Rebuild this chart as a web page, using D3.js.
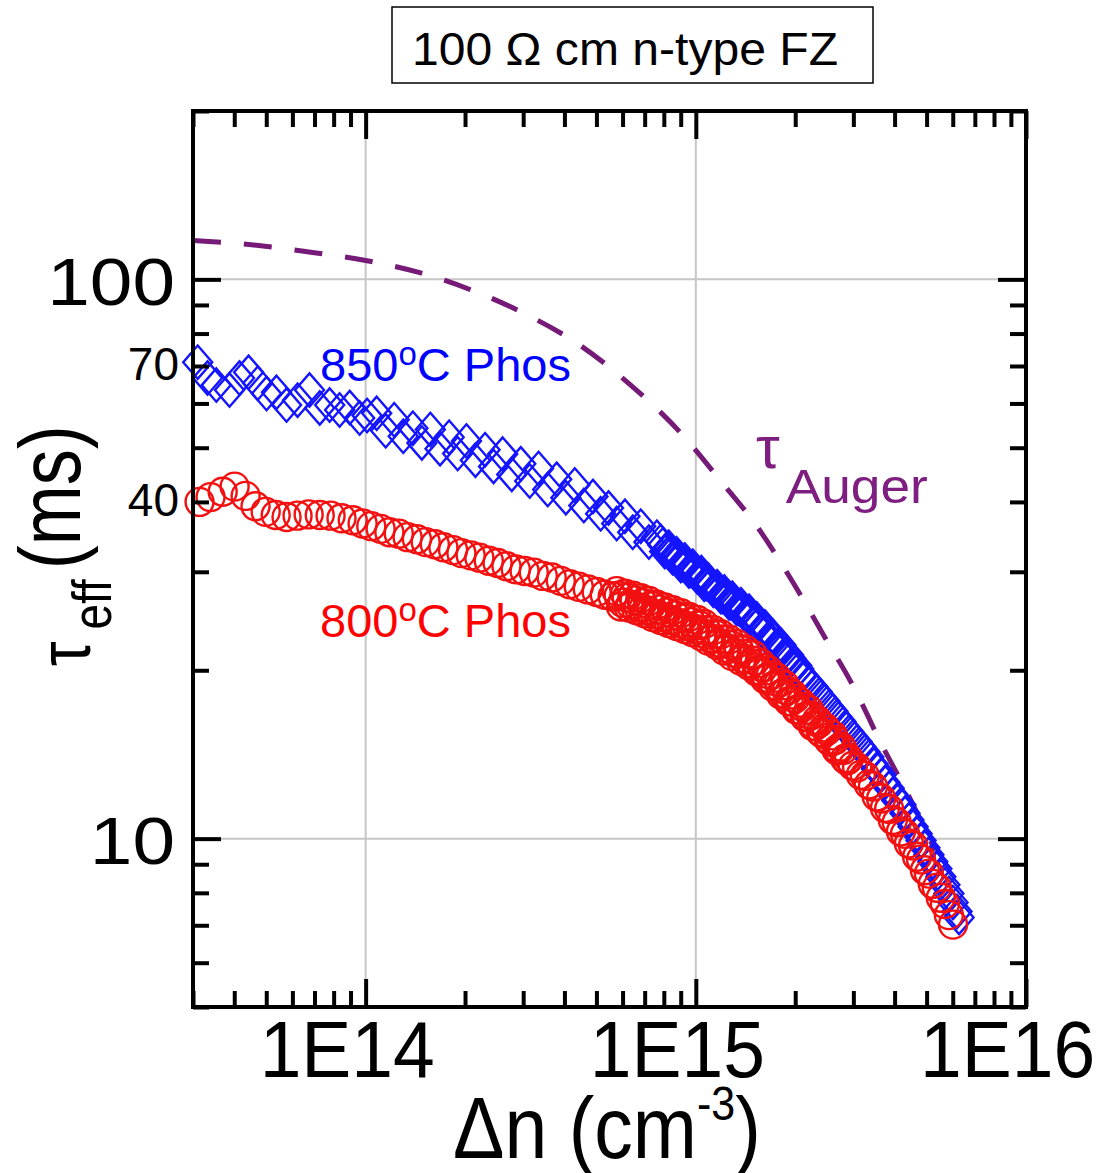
<!DOCTYPE html>
<html>
<head>
<meta charset="utf-8">
<script src="https://cdn.jsdelivr.net/npm/d3@7"></script>
<style>
  html, body { margin: 0; padding: 0; background: #fff; }
  svg { display: block; font-family: "Liberation Sans", Arial, Helvetica, sans-serif; }
</style>
</head>
<body>
<svg id="chart" width="1104" height="1173"></svg>
<script>
// Injection level Δn (cm^-3) and effective lifetime τeff (ms), 850 °C phosphorus diffusion
const phos850Dn = [
  3.10e13, 3.32e13, 3.53e13, 3.87e13, 4.15e13, 4.42e13, 4.71e13, 5.01e13, 5.37e13, 5.76e13,
  6.22e13, 6.76e13, 7.26e13, 7.78e13, 8.34e13, 8.95e13, 9.59e13, 1.01e14,
  1.08e14, 1.15e14, 1.22e14, 1.30e14, 1.39e14, 1.48e14, 1.57e14, 1.68e14, 1.79e14, 1.90e14,
  2.02e14, 2.15e14, 2.30e14, 2.44e14, 2.60e14, 2.77e14, 2.95e14, 3.14e14, 3.34e14, 3.56e14,
  3.79e14, 4.04e14, 4.30e14, 4.58e14, 4.88e14, 5.15e14,
  5.44e14, 5.76e14, 6.10e14, 6.44e14, 6.81e14, 7.21e14, 7.62e14,
  7.83e14, 7.94e14, 8.05e14, 8.16e14, 8.28e14, 8.39e14, 8.51e14, 8.63e14, 8.75e14, 8.88e14,
  9.01e14, 9.13e14, 9.26e14, 9.39e14, 9.53e14, 9.66e14, 9.79e14, 9.94e14, 1.01e15, 1.025e15,
  1.04e15, 1.05e15, 1.06e15, 1.075e15, 1.09e15, 1.11e15, 1.13e15, 1.145e15, 1.16e15, 1.175e15,
  1.19e15, 1.205e15, 1.22e15, 1.24e15, 1.26e15, 1.275e15, 1.29e15, 1.31e15, 1.33e15, 1.35e15,
  1.37e15, 1.39e15, 1.41e15, 1.43e15, 1.45e15, 1.47e15, 1.49e15, 1.51e15, 1.53e15, 1.55e15,
  1.57e15, 1.595e15, 1.62e15, 1.64e15, 1.66e15, 1.685e15, 1.71e15, 1.735e15, 1.76e15, 1.785e15,
  1.81e15, 1.835e15, 1.86e15, 1.885e15, 1.91e15, 1.94e15, 1.97e15, 1.995e15, 2.02e15, 2.05e15,
  2.08e15,
  2.14e15, 2.20e15, 2.26e15, 2.33e15, 2.39e15, 2.46e15, 2.53e15, 2.60e15, 2.67e15, 2.75e15,
  2.83e15, 2.91e15, 2.99e15, 3.08e15, 3.16e15, 3.25e15, 3.34e15, 3.44e15, 3.53e15, 3.64e15,
  3.74e15, 3.85e15, 3.95e15, 4.06e15, 4.18e15, 4.30e15, 4.42e15, 4.55e15, 4.68e15, 4.81e15,
  4.94e15, 5.08e15, 5.22e15, 5.37e15, 5.52e15, 5.68e15, 5.84e15, 6.01e15, 6.18e15, 6.27e15
];
const phos850Tau = [
  71.1, 66.6, 64.7, 63.4, 66.6, 68.2, 65.2, 62.5, 62.8, 59.6,
  60.8, 63.4, 58.9, 59.6, 58.4, 59.0, 56.5, 57.1,
  57.6, 53.6, 56.1, 52.4, 54.2, 51.0, 53.9, 49.8, 52.2, 48.8,
  51.4, 47.5, 49.6, 46.3, 48.7, 44.8, 46.8, 43.6, 45.9, 42.1,
  43.9, 40.7, 42.9, 39.4, 40.9, 38.1,
  39.0, 36.6, 37.7, 35.3, 36.2, 33.9, 34.6,
  34.0, 33.5, 32.6, 32.7, 33.2, 32.7, 31.8, 31.9, 32.3, 31.8,
  30.8, 30.9, 31.5, 31.0, 30.1, 30.2, 30.7, 30.2, 29.4, 29.5,
  29.9, 29.4, 28.5, 28.6, 29.0, 28.5, 27.8, 27.8, 28.2, 27.8,
  27.1, 27.1, 27.6, 27.1, 26.4, 26.4, 26.9, 26.5, 25.8, 25.8,
  26.2, 25.8, 25.1, 25.1, 25.5, 25.1, 24.3, 24.3, 24.7, 24.3,
  23.5, 23.5, 23.9, 23.5, 22.7, 22.7, 23.0, 22.7, 21.9, 21.9,
  22.2, 21.8, 21.0, 21.0, 21.3, 21.0, 20.2, 20.3, 20.4, 20.1,
  19.6,
  19.4, 19.0, 18.7, 18.3, 17.9, 17.6, 17.2, 16.9, 16.5, 16.2,
  15.8, 15.5, 15.2, 14.9, 14.6, 14.3, 14.0, 13.6, 13.3, 13.0,
  12.6, 12.3, 12.0, 11.7, 11.5, 11.1, 10.8, 10.5, 10.2, 9.92,
  9.63, 9.36, 9.09, 8.83, 8.55, 8.27, 7.98, 7.69, 7.41, 7.23
];

// 800 °C phosphorus diffusion
const phos800Dn = [
  3.14e13, 3.39e13, 3.69e13, 4.01e13, 4.33e13, 4.64e13, 4.98e13, 5.34e13, 5.76e13, 6.22e13,
  6.72e13, 7.26e13, 7.83e13, 8.45e13, 9.14e13, 9.79e13,
  1.04e14, 1.11e14, 1.18e14, 1.26e14, 1.34e14, 1.43e14, 1.52e14, 1.62e14, 1.72e14, 1.84e14,
  1.95e14, 2.08e14, 2.21e14, 2.36e14, 2.51e14, 2.67e14, 2.85e14, 3.03e14, 3.23e14, 3.44e14,
  3.66e14, 3.90e14, 4.15e14, 4.42e14, 4.71e14, 5.01e14, 5.30e14, 5.60e14,
  5.76e14, 5.84e14, 5.93e14, 6.01e14, 6.10e14, 6.18e14, 6.27e14, 6.35e14, 6.44e14, 6.53e14,
  6.62e14, 6.71e14, 6.81e14, 6.90e14, 7.00e14, 7.10e14, 7.21e14, 7.31e14, 7.41e14, 7.51e14,
  7.62e14, 7.72e14, 7.83e14, 7.94e14, 8.05e14, 8.16e14, 8.28e14, 8.39e14, 8.51e14, 8.63e14,
  8.75e14, 8.88e14, 9.01e14, 9.13e14, 9.26e14, 9.39e14, 9.53e14, 9.66e14, 9.79e14, 9.94e14,
  1.01e15, 1.02e15, 1.04e15, 1.05e15, 1.06e15, 1.075e15, 1.09e15, 1.11e15, 1.13e15, 1.145e15,
  1.16e15, 1.175e15, 1.19e15, 1.205e15, 1.22e15, 1.24e15, 1.26e15, 1.275e15, 1.29e15, 1.31e15,
  1.33e15, 1.35e15, 1.37e15, 1.39e15, 1.41e15, 1.43e15, 1.45e15, 1.47e15, 1.49e15, 1.51e15,
  1.53e15, 1.55e15, 1.57e15, 1.595e15, 1.62e15, 1.64e15, 1.66e15, 1.685e15, 1.71e15, 1.735e15,
  1.76e15, 1.785e15, 1.81e15, 1.835e15, 1.86e15, 1.885e15, 1.91e15, 1.94e15, 1.97e15, 1.995e15,
  2.02e15, 2.05e15, 2.08e15, 2.11e15, 2.14e15, 2.17e15, 2.20e15, 2.23e15, 2.26e15, 2.295e15,
  2.33e15, 2.36e15, 2.39e15, 2.425e15, 2.46e15, 2.495e15, 2.53e15, 2.565e15, 2.60e15, 2.635e15,
  2.67e15, 2.71e15, 2.75e15, 2.79e15, 2.83e15, 2.87e15,
  2.91e15, 2.99e15, 3.08e15, 3.16e15, 3.25e15, 3.34e15, 3.44e15, 3.53e15, 3.64e15, 3.74e15,
  3.85e15, 3.95e15, 4.06e15, 4.18e15, 4.30e15, 4.42e15, 4.55e15, 4.68e15, 4.81e15, 4.94e15,
  5.08e15, 5.22e15, 5.37e15, 5.52e15, 5.68e15, 5.84e15, 6.01e15
];
const phos800Tau = [
  40.0, 40.8, 41.7, 42.6, 41.0, 39.3, 38.4, 37.9, 37.6, 37.8,
  38.0, 37.9, 37.8, 37.4, 37.1, 36.6,
  36.2, 35.8, 35.3, 35.1, 34.6, 34.3, 33.9, 33.6, 33.2, 32.8,
  32.4, 32.1, 31.8, 31.4, 31.1, 30.7, 30.3, 30.1, 29.9, 29.5,
  29.3, 28.9, 28.5, 28.2, 27.9, 27.6, 27.3, 27.1,
  27.7, 27.2, 26.0, 26.4, 27.4, 27.0, 25.9, 26.2, 27.2, 26.7,
  25.6, 25.9, 26.9, 26.4, 25.3, 25.6, 26.6, 26.1, 24.9, 25.2,
  26.2, 25.7, 24.6, 24.9, 25.9, 25.4, 24.3, 24.6, 25.6, 25.1,
  24.0, 24.3, 25.3, 24.8, 23.7, 24.0, 24.9, 24.4, 23.4, 23.7,
  24.6, 24.1, 23.0, 23.3, 24.2, 23.6, 22.6, 22.8, 23.6, 23.2,
  22.2, 22.4, 23.2, 22.7, 21.7, 21.9, 22.7, 22.2, 21.2, 21.5,
  22.3, 21.8, 20.8, 21.0, 21.8, 21.4, 20.4, 20.6, 21.3, 20.8,
  19.9, 20.0, 20.6, 20.2, 19.3, 19.4, 20.0, 19.6, 18.7, 18.8,
  19.4, 19.0, 18.1, 18.2, 18.8, 18.4, 17.6, 17.6, 18.1, 17.8,
  17.0, 17.0, 17.5, 17.2, 16.5, 16.5, 17.0, 16.6, 15.9, 15.9,
  16.3, 16.1, 15.5, 15.4, 15.8, 15.6, 15.0, 14.9, 15.3, 15.0,
  14.4, 14.4, 14.6, 14.4, 13.9, 13.8,
  13.9, 13.5, 13.4, 13.0, 12.95, 12.5, 12.4, 11.9, 11.8, 11.35,
  11.3, 10.8, 10.7, 10.3, 10.2, 9.80, 9.72, 9.28, 9.18, 8.78,
  8.66, 8.30, 8.17, 7.84, 7.64, 7.30, 7.02
];

// Intrinsic (Auger) lifetime limit
const augerDn = [
  3.0e13, 4.74e13, 6.90e13, 1.00e14, 1.45e14, 2.10e14, 3.01e14, 4.42e14, 6.35e14, 9.01e14,
  1.19e15, 1.53e15, 1.97e15, 2.46e15, 3.03e15, 3.64e15, 4.39e15, 5.30e15
];
const augerTau = [
  117.4, 115.0, 111.7, 108.1, 102.9, 95.6, 87.0, 76.5, 64.7, 53.1,
  43.6, 36.2, 28.7, 22.9, 18.5, 14.8, 12.0, 9.52
];

// Axis ranges and labelled ticks
const xDomain = [3e13, 1e16];
const yDomain = [5, 200];
const xTickValues = [1e14, 1e15, 1e16];
const xTickLabels = ["1E14", "1E15", "1E16"];
const yMajorValues = [10, 100];
const yMajorLabels = ["10", "100"];
const yMinorLabelValues = [40, 70];
const yMinorLabels = ["40", "70"];

const svg = d3.select("#chart");
const plot = { left: 193, right: 1026, top: 111, bottom: 1007 };

const x = d3.scaleLog().domain(xDomain).range([plot.left, plot.right]);
const y = d3.scaleLog().domain(yDomain).range([plot.bottom, plot.top]);

const isDecade = v => Math.abs(Math.log10(v) - Math.round(Math.log10(v))) < 1e-9;

// Grid lines at the decades
const grid = svg.append("g").attr("stroke", "#c6c6c6").attr("stroke-width", 2);
xTickValues.filter(v => v < xDomain[1]).forEach(v => {
  grid.append("line").attr("x1", x(v)).attr("x2", x(v)).attr("y1", plot.top).attr("y2", plot.bottom);
});
yMajorValues.forEach(v => {
  grid.append("line").attr("x1", plot.left).attr("x2", plot.right).attr("y1", y(v)).attr("y2", y(v));
});

// Auger limit, dashed
const augerLine = d3.line()
  .x((d, i) => x(augerDn[i]))
  .y((d, i) => y(augerTau[i]))
  .curve(d3.curveMonotoneX);
svg.append("path")
  .attr("d", augerLine(augerDn))
  .attr("fill", "none")
  .attr("stroke", "#761a78")
  .attr("stroke-width", 5)
  .attr("stroke-dasharray", "28,23");

// 850 °C: open diamonds
const diamond = {
  draw(ctx, size) {
    const r = Math.sqrt(size / 2);
    ctx.moveTo(0, -r * 1.15);
    ctx.lineTo(r, 0);
    ctx.lineTo(0, r * 1.15);
    ctx.lineTo(-r, 0);
    ctx.closePath();
  }
};
const diamondPath = d3.symbol().type(diamond).size(2 * 14.5 * 14.5)();
svg.append("g")
  .selectAll("path")
  .data(phos850Dn.map((d, i) => [d, phos850Tau[i]]))
  .join("path")
  .attr("d", diamondPath)
  .attr("transform", d => `translate(${x(d[0])},${y(d[1])})`)
  .attr("fill", "none")
  .attr("stroke", "#1414ff")
  .attr("stroke-width", 2.4);

// 800 °C: open circles
svg.append("g")
  .selectAll("circle")
  .data(phos800Dn.map((d, i) => [d, phos800Tau[i]]))
  .join("circle")
  .attr("cx", d => x(d[0]))
  .attr("cy", d => y(d[1]))
  .attr("r", 14)
  .attr("fill", "none")
  .attr("stroke", "#f21010")
  .attr("stroke-width", 2.4);

// Frame with inward ticks on all four sides
const allX = x.ticks();
const allY = y.ticks();
const xMinor = allX.filter(v => !isDecade(v));
const xMajor = allX.filter(v => isDecade(v));
const yMinor = allY.filter(v => !isDecade(v));
const yMajor = allY.filter(v => isDecade(v));

function tickGroup(axis, tx, ty) {
  const g = svg.append("g").attr("transform", `translate(${tx},${ty})`).call(axis);
  g.select(".domain").remove();
  g.selectAll(".tick text").remove();
  g.selectAll(".tick line").attr("stroke", "#000").attr("stroke-width", 4);
  return g;
}
const minorLen = 16, majorLen = 28;
tickGroup(d3.axisBottom(x).tickValues(xMinor).tickSize(-minorLen), 0, plot.bottom);
tickGroup(d3.axisBottom(x).tickValues(xMajor).tickSize(-majorLen), 0, plot.bottom);
tickGroup(d3.axisTop(x).tickValues(xMinor).tickSize(-minorLen), 0, plot.top);
tickGroup(d3.axisTop(x).tickValues(xMajor).tickSize(-majorLen), 0, plot.top);
tickGroup(d3.axisLeft(y).tickValues(yMinor).tickSize(-minorLen), plot.left, 0);
tickGroup(d3.axisLeft(y).tickValues(yMajor).tickSize(-majorLen), plot.left, 0);
tickGroup(d3.axisRight(y).tickValues(yMinor).tickSize(-minorLen), plot.right, 0);
tickGroup(d3.axisRight(y).tickValues(yMajor).tickSize(-majorLen), plot.right, 0);

svg.append("rect")
  .attr("x", plot.left).attr("y", plot.top)
  .attr("width", plot.right - plot.left).attr("height", plot.bottom - plot.top)
  .attr("fill", "none").attr("stroke", "#000").attr("stroke-width", 4);

// Tick labels
xTickValues.forEach((v, i) => {
  svg.append("text")
    .attr("transform", `translate(${x(v) - 106},${plot.bottom + 70}) scale(1,1.05)`)
    .attr("font-size", 75)
    .attr("fill", "#000")
    .text(xTickLabels[i]);
});
yMajorValues.forEach((v, i) => {
  svg.append("text")
    .attr("transform", `translate(175,${y(v) + 25.5}) scale(1.16,1)`)
    .attr("text-anchor", "end")
    .attr("font-size", 66)
    .attr("fill", "#000")
    .text(yMajorLabels[i]);
});
yMinorLabelValues.forEach((v, i) => {
  svg.append("text")
    .attr("x", 179)
    .attr("y", y(v) + 14.5)
    .attr("text-anchor", "end")
    .attr("font-size", 46)
    .attr("fill", "#000")
    .text(yMinorLabels[i]);
});

// Axis titles
const xTitle = svg.append("text")
  .attr("transform", "translate(453,1158) scale(1,1.12)")
  .attr("font-size", 77)
  .attr("fill", "#000");
xTitle.append("tspan").text("\u0394n (cm");
xTitle.append("tspan").attr("font-size", 43).attr("dy", -34).text("-3");
xTitle.append("tspan").attr("dy", 34).text(")");

const yTitle = svg.append("text")
  .attr("transform", "translate(80,666) rotate(-90) scale(1,1.2)")
  .attr("font-size", 72)
  .attr("fill", "#000");
yTitle.append("tspan").attr("font-size", 62).attr("dy", 8).text("\u03c4");
yTitle.append("tspan").attr("font-size", 46).attr("dx", 12).attr("dy", 18).text("eff");
yTitle.append("tspan").attr("dy", -26).attr("dx", -10).text(" (ms)");

// Title box
svg.append("rect")
  .attr("x", 392).attr("y", 7).attr("width", 481).attr("height", 76)
  .attr("fill", "#fff").attr("stroke", "#000").attr("stroke-width", 1.5);
svg.append("text")
  .attr("x", 412).attr("y", 65)
  .attr("font-size", 47)
  .attr("textLength", 426)
  .attr("lengthAdjust", "spacingAndGlyphs")
  .attr("fill", "#000")
  .text("100 \u03a9 cm n-type FZ");

// Series labels
function tempLabel(txt, sup, rest, px, py, color) {
  const t = svg.append("text").attr("x", px).attr("y", py).attr("font-size", 47).attr("fill", color);
  t.append("tspan").text(txt);
  t.append("tspan").attr("font-size", 33).attr("dy", -16).text(sup);
  t.append("tspan").attr("dy", 16).text(rest);
}
tempLabel("850", "o", "C Phos", 320, 381, "#0000ff");
tempLabel("800", "o", "C Phos", 320, 637, "#ff0000");

const augerLabel = svg.append("text")
  .attr("x", 756).attr("y", 468)
  .attr("font-size", 60)
  .attr("fill", "#7d1e80");
augerLabel.append("tspan").text("\u03c4");
augerLabel.append("tspan")
  .attr("font-size", 48).attr("dx", 6).attr("dy", 35)
  .attr("textLength", 142).attr("lengthAdjust", "spacingAndGlyphs")
  .text("Auger");
</script>
</body>
</html>
